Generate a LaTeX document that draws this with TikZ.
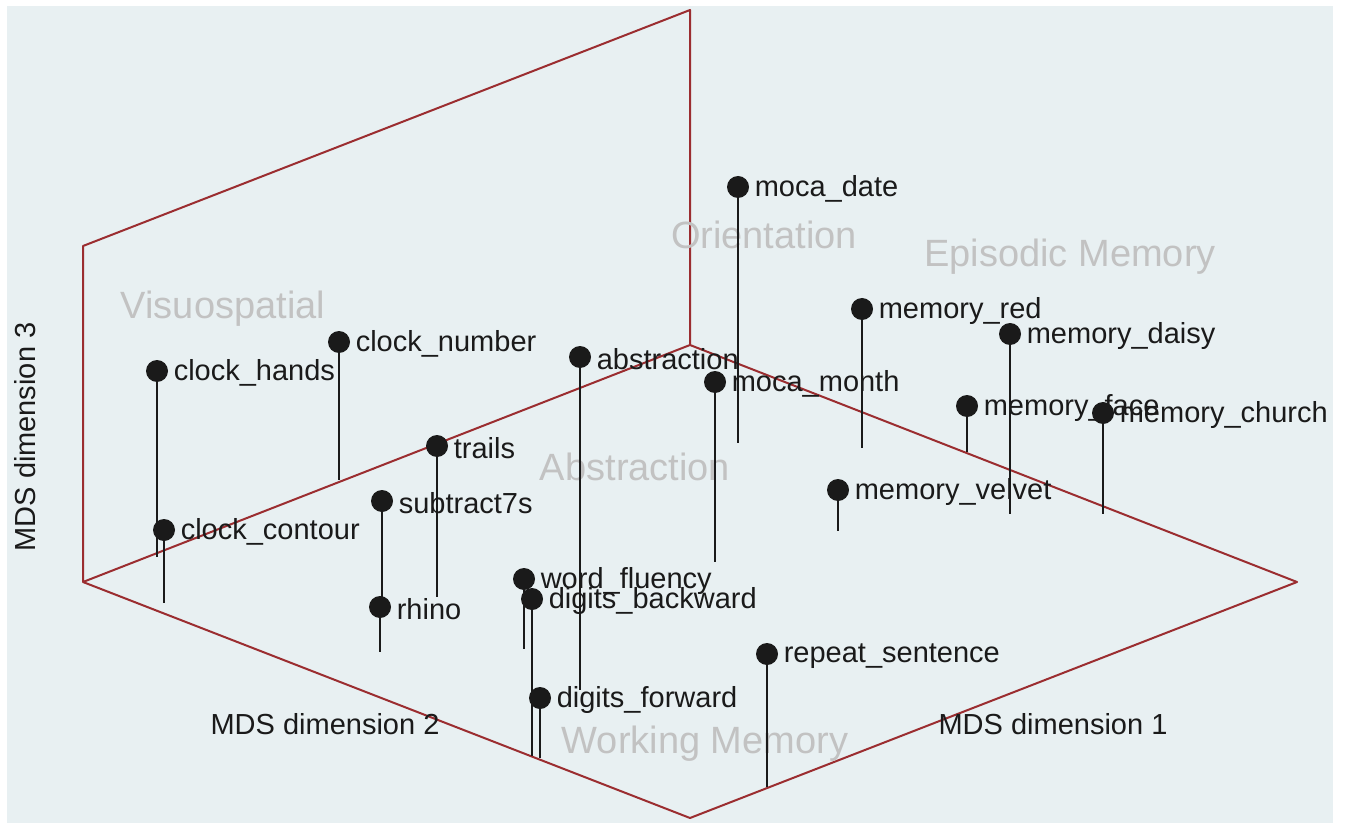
\documentclass[tikz,border=0pt]{standalone}
\usepackage{fontspec}
\setmainfont{Liberation Sans}
\usetikzlibrary{positioning}

\definecolor{panel}{HTML}{E8F0F2}
\definecolor{frame}{HTML}{9B2D30}
\definecolor{ink}{HTML}{1A1A1A}
\definecolor{group}{HTML}{C2C2C2}

\tikzset{
    dot/.style={circle, fill=ink, inner sep=0pt, minimum size=11pt},
    stem/.style={draw=ink, line width=1pt},
    itemlab/.style={inner sep=0pt, yshift=-1pt, text=ink, font=\fontsize{14.5}{16}\selectfont},
    grouplab/.style={text=group, font=\fontsize{19}{22}\selectfont},
    axislab/.style={text=ink, font=\fontsize{14.5}{16}\selectfont}
}

\begin{document}
\begin{tikzpicture}[x=0.5pt, y=-0.5pt]

    \useasboundingbox (0, 0) rectangle (1352, 823);
    \fill [panel] (7, 6) rectangle (1333, 823);

    % box corners
    \coordinate (left) at (83, 582);
    \coordinate (front) at (690, 818);
    \coordinate (right) at (1297, 582);
    \coordinate (back) at (690, 345);
    \coordinate (lefttop) at (83, 246);
    \coordinate (backtop) at (690, 10);

    \draw [frame, line width=1pt, line join=round] (left) -- (front) -- (right) -- (back) -- cycle;
    \draw [frame, line width=1pt, line join=round] (left) -- (lefttop) -- (backtop) -- (back);

    \node [grouplab] (orient) at (764, 235) {Orientation};
    \node [grouplab] (episodic) at (1070, 257) {Episodic Memory};
    \node [grouplab] (visuo) at (223, 309) {Visuospatial};
    \node [grouplab] (abstr) at (635, 467) {Abstraction};
    \node [grouplab] (working) at (705, 744) {Working Memory};

    \foreach \n/\x/\y/\b/\t in {
        mdate/738/187/443/moca\_date,
        mred/862/309/448/memory\_red,
        mdaisy/1010/334/514/memory\_daisy,
        cnumber/339/342/480/clock\_number,
        abstraction/580/357/690/abstraction,
        chands/157/371/557/clock\_hands,
        mmonth/715/382/562/moca\_month,
        mface/967/406/452/memory\_face,
        mchurch/1103/413/514/memory\_church,
        trails/437/446/597/trails,
        mvelvet/838/490/531/memory\_velvet,
        subtract/382/501/607/subtract7s,
        ccontour/164/530/603/clock\_contour,
        wfluency/524/579/649/word\_fluency,
        dback/532/599/756/digits\_backward,
        rhino/380/607/652/rhino,
        rsentence/767/654/787/repeat\_sentence,
        dforward/540/698/758/digits\_forward}
    {
        \node [dot] (\n) at (\x, \y) {};
        \coordinate (\n-b) at (\x, \b);
        \draw [stem] (\n) -- (\n-b);
        \node [itemlab, right=2.5pt of \n] (\n-t) {\t};
    }

    \node [axislab] (dimtwo) at (325, 724) {MDS dimension 2};
    \node [axislab] (dimone) at (1053, 724) {MDS dimension 1};
    \node [axislab, rotate=90] (dimthree) at (25, 437) {MDS dimension 3};

\end{tikzpicture}
\end{document}
